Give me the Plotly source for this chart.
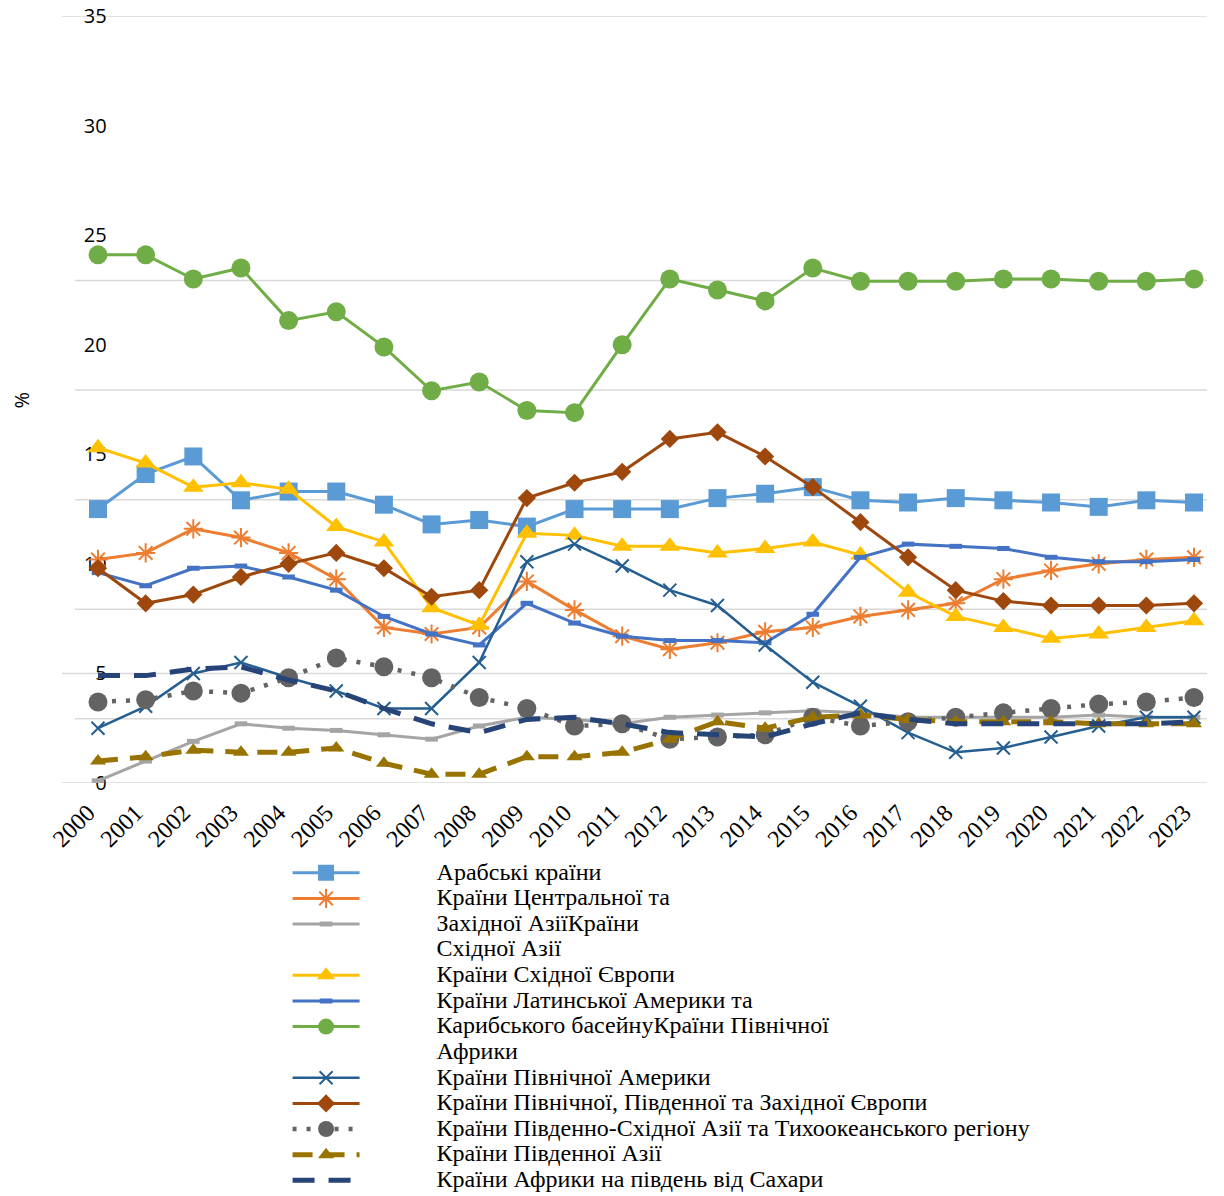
import plotly.graph_objects as go

# Years on the horizontal axis
years = list(range(2000, 2024))
year_labels = [str(y) for y in years]

# Regional series, % by year
arab = [12.5, 14.1, 14.9, 12.9, 13.3, 13.3, 12.7, 11.8, 12.0, 11.7, 12.5, 12.5,
        12.5, 13.0, 13.2, 13.5, 12.9, 12.8, 13.0, 12.9, 12.8, 12.6, 12.9, 12.8]
central_west_asia = [10.2, 10.5, 11.6, 11.2, 10.5, 9.3, 7.1, 6.8, 7.1, 9.2, 7.9, 6.7,
                     6.1, 6.4, 6.9, 7.1, 7.6, 7.9, 8.2, 9.3, 9.7, 10.0, 10.2, 10.3]
east_asia = [0.1, 1.0, 1.9, 2.7, 2.5, 2.4, 2.2, 2.0, 2.6, 3.0, 2.9, 2.7,
             3.0, 3.1, 3.2, 3.3, 3.2, 3.0, 3.0, 3.0, 3.0, 3.1, 3.0, 3.0]
east_europe = [15.3, 14.6, 13.5, 13.7, 13.4, 11.7, 11.0, 8.0, 7.2, 11.4, 11.3, 10.8,
               10.8, 10.5, 10.7, 11.0, 10.4, 8.7, 7.6, 7.1, 6.6, 6.8, 7.1, 7.4]
latin_america = [9.6, 9.0, 9.8, 9.9, 9.4, 8.8, 7.6, 6.8, 6.3, 8.2, 7.3, 6.7,
                 6.5, 6.5, 6.4, 7.7, 10.3, 10.9, 10.8, 10.7, 10.3, 10.1, 10.1, 10.2]
north_africa = [24.1, 24.1, 23.0, 23.5, 21.1, 21.5, 19.9, 17.9, 18.3, 17.0, 16.9, 20.0,
                23.0, 22.5, 22.0, 23.5, 22.9, 22.9, 22.9, 23.0, 23.0, 22.9, 22.9, 23.0]
north_america = [2.5, 3.5, 5.0, 5.5, 4.8, 4.2, 3.4, 3.4, 5.5, 10.1, 10.9, 9.9,
                 8.8, 8.1, 6.3, 4.6, 3.5, 2.3, 1.4, 1.6, 2.1, 2.6, 3.0, 3.0]
nsw_europe = [9.8, 8.2, 8.6, 9.4, 10.0, 10.5, 9.8, 8.5, 8.8, 13.0, 13.7, 14.2,
              15.7, 16.0, 14.9, 13.5, 11.9, 10.3, 8.8, 8.3, 8.1, 8.1, 8.1, 8.2]
se_asia_pacific = [3.7, 3.8, 4.2, 4.1, 4.8, 5.7, 5.3, 4.8, 3.9, 3.4, 2.6, 2.7,
                   2.0, 2.1, 2.2, 3.0, 2.6, 2.8, 3.0, 3.2, 3.4, 3.6, 3.7, 3.9]
south_asia = [1.0, 1.2, 1.5, 1.4, 1.4, 1.6, 0.9, 0.4, 0.4, 1.2, 1.2, 1.4,
              2.0, 2.8, 2.5, 3.0, 3.1, 2.9, 2.8, 2.8, 2.8, 2.7, 2.7, 2.7]
sub_saharan = [4.9, 4.9, 5.2, 5.3, 4.7, 4.2, 3.4, 2.7, 2.3, 2.9, 3.0, 2.7,
               2.3, 2.2, 2.1, 2.7, 3.2, 2.9, 2.7, 2.7, 2.7, 2.7, 2.7, 2.8]

series_names = [
    "Арабські країни",
    "Країни Центральної та Західної Азії",
    "Країни Східної Азії",
    "Країни Східної Європи",
    "Країни Латинської Америки та Карибського басейну",
    "Країни Північної Африки",
    "Країни Північної Америки",
    "Країни Північної, Південної та Західної Європи",
    "Країни Південно-Східної Азії та Тихоокеанського регіону",
    "Країни Південної Азії",
    "Країни Африки на південь від Сахари",
]

# Legend text, line by line, as it is laid out under the chart
legend_lines = [
    ["Арабські країни"],
    ["Країни Центральної та"],
    ["Західної АзіїКраїни", "Східної Азії"],
    ["Країни Східної Європи"],
    ["Країни Латинської Америки та"],
    ["Карибського басейнуКраїни Північної", "Африки"],
    ["Країни Північної Америки"],
    ["Країни Північної, Південної та Західної Європи"],
    ["Країни Південно-Східної Азії та Тихоокеанського регіону"],
    ["Країни Південної Азії"],
    ["Країни Африки на південь від Сахари"],
]

y_ticks = [0, 5, 10, 15, 20, 25, 30, 35]
grid_full = [0, 5, 35]
grid_offset = [2.93, 7.93, 12.93, 17.93, 22.93]

values = [arab, central_west_asia, east_asia, east_europe, latin_america,
          north_africa, north_america, nsw_europe, se_asia_pacific,
          south_asia, sub_saharan]

styles = [
    dict(color="#5B9BD5", width=3, dash="solid", symbol="square", size=18, mline=0),
    dict(color="#ED7D31", width=3, dash="solid", symbol="asterisk-open", size=16, mline=2),
    dict(color="#A5A5A5", width=3, dash="solid", symbol="line-ew-open", size=9, mline=5),
    dict(color="#FFC000", width=3, dash="solid", symbol="triangle-up", size=18, mline=0),
    dict(color="#4472C4", width=3, dash="solid", symbol="line-ew-open", size=9, mline=5),
    dict(color="#70AD47", width=3, dash="solid", symbol="circle", size=19, mline=0),
    dict(color="#255E91", width=2.5, dash="solid", symbol="x-thin-open", size=13, mline=2),
    dict(color="#9E480E", width=3, dash="solid", symbol="diamond", size=14, mline=0),
    dict(color="#636363", width=4.5, dash="4px,10px", symbol="circle", size=19, mline=0),
    dict(color="#997300", width=5, dash="20px,12px", symbol="triangle-up", size=14, mline=0),
    dict(color="#264478", width=5, dash="22px,14px", symbol=None, size=0, mline=0),
]

PAD = "\u00a0" * 12


def legend_text(line):
    return f'<span style="font-size:24px">{PAD}{line}</span>'


fig = go.Figure()
for i, (name, lines, ys, st) in enumerate(zip(series_names, legend_lines, values, styles)):
    group = f"g{i}"
    marker = None
    mode = "lines"
    if st["symbol"]:
        mode = "lines+markers"
        marker = dict(symbol=st["symbol"], size=st["size"], color=st["color"],
                      line=dict(color=st["color"], width=st["mline"]))
    fig.add_trace(go.Scatter(
        x=years, y=ys, mode=mode, name=legend_text(lines[0]),
        legendgroup=group,
        line=dict(color=st["color"], width=st["width"], dash=st["dash"]),
        marker=marker,
        hovertemplate=f"{name}<br>%{{x}}: %{{y}}%<extra></extra>",
    ))
    # wrapped continuation of a long legend label (no symbol, no data)
    for extra in lines[1:]:
        fig.add_trace(go.Scatter(
            x=[None], y=[None], mode="lines", name=legend_text(extra),
            legendgroup=group, hoverinfo="skip",
            line=dict(color="rgba(0,0,0,0)", width=0),
        ))

# Horizontal gridlines
for gy in grid_full:
    fig.add_shape(type="line", xref="paper", yref="y", x0=0, x1=1, y0=gy, y1=gy,
                  line=dict(color="#D9D9D9", width=1.5), layer="below")
for gy in grid_offset:
    fig.add_shape(type="line", xref="paper", yref="y", x0=0.0114, x1=1, y0=gy, y1=gy,
                  line=dict(color="#D9D9D9", width=1.5), layer="below")

# Axis title
fig.add_annotation(text="%", xref="paper", yref="paper", x=-0.035, y=0.5,
                   xanchor="center", yanchor="middle",
                   textangle=-90, showarrow=False,
                   font=dict(family="Open Sans", size=20, color="#000000"))

fig.update_layout(
    width=1224, height=1196,
    margin=dict(l=62, r=17, t=16, b=413),
    paper_bgcolor="white", plot_bgcolor="white",
    showlegend=True,
    legend=dict(
        orientation="v", xref="paper", yref="container",
        x=0.197, xanchor="left", y=0.2851, yanchor="top",
        font=dict(family="Liberation Serif", size=17.4, color="#000000"),
        itemwidth=67, tracegroupgap=0,
        bgcolor="rgba(0,0,0,0)",
    ),
    xaxis=dict(
        range=[1999.2445, 2023.2728], tickvals=years, ticktext=year_labels,
        tickangle=-45, showgrid=False, zeroline=False, showline=False, ticks="",
        automargin=False, ticklabelstandoff=10, ticklabelshift=-10,
        tickfont=dict(family="Liberation Serif", size=24, color="#000000"),
    ),
    yaxis=dict(
        range=[0, 35], tickvals=y_ticks, ticktext=[str(v) for v in y_ticks],
        showgrid=False, zeroline=False, showline=False, ticks="",
        anchor="free", position=0.039, side="left", automargin=False,
        layer="below traces",
        tickfont=dict(family="Open Sans", size=20, color="#000000"),
    ),
)

fig.write_html("out.html")
